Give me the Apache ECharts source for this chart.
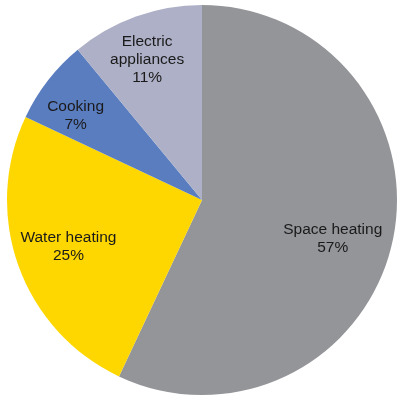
<!DOCTYPE html>
<html>
<head>
<meta charset="utf-8">
<style>
  html, body { margin: 0; padding: 0; background: #ffffff; }
  #chart { width: 398px; height: 397px; }
</style>
<script src="https://cdn.jsdelivr.net/npm/echarts@6/dist/echarts.min.js"></script>
</head>
<body>
<div id="chart"></div>
<script>
// Household energy use by end use (share, %)
const categories = ['Space heating', 'Water heating', 'Cooking', 'Electric\nappliances'];
const shares = [57, 25, 7, 11];
const colors = ['#949599', '#FED700', '#5A7DC0', '#ADB0C6'];
// small nudges of each slice label from its radial anchor
const labelNudges = [[-13, 7], [5, -3], [-10, 6], [-5, -2]];

const chart = echarts.init(document.getElementById('chart'), null, { renderer: 'canvas' });

const center = [202, 200];
const outer = 195;

chart.setOption({
  animation: false,
  series: [
    {
      // filled slices
      type: 'pie',
      center: center,
      radius: [0, outer],
      startAngle: 90,
      clockwise: true,
      silent: true,
      label: { show: false },
      labelLine: { show: false },
      itemStyle: { borderWidth: 0 },
      data: categories.map((name, i) => ({
        name: name,
        value: shares[i],
        itemStyle: { color: colors[i] }
      }))
    },
    {
      // transparent ring that carries the slice labels further out than mid-radius
      type: 'pie',
      center: center,
      radius: [outer * 0.48, outer],
      startAngle: 90,
      clockwise: true,
      silent: true,
      itemStyle: { color: 'rgba(0,0,0,0)', borderWidth: 0 },
      labelLine: { show: false },
      label: {
        show: true,
        position: 'inside',
        formatter: p => p.name + '\n' + p.value + '%',
        fontFamily: 'Liberation Sans, Arial, sans-serif',
        fontSize: 15.5,
        lineHeight: 18,
        color: '#1a1a1a',
        align: 'center'
      },
      data: categories.map((name, i) => ({
        name: name,
        value: shares[i],
        label: { offset: labelNudges[i] }
      }))
    }
  ]
});
</script>
</body>
</html>
